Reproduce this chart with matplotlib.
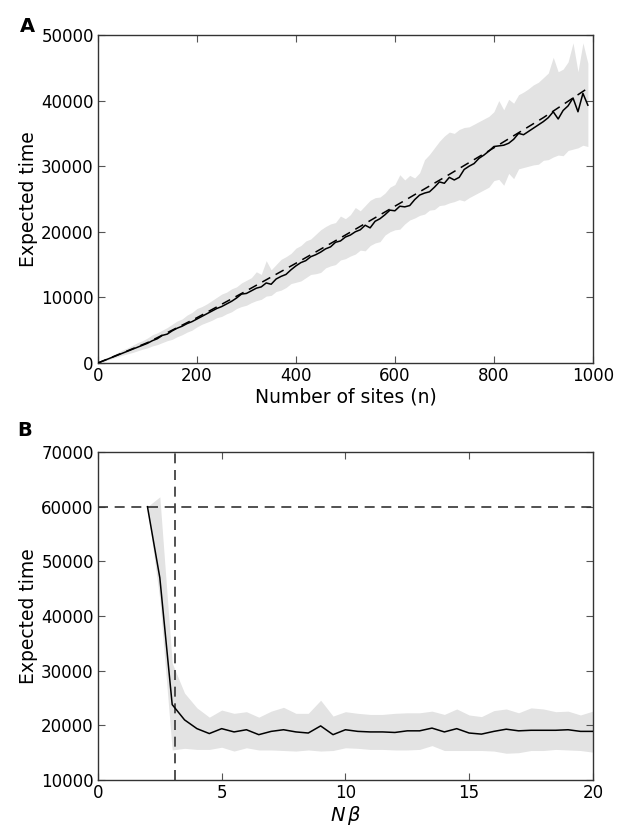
import matplotlib
matplotlib.use("Agg")
import matplotlib.pyplot as plt
import numpy as np

# Panel A: expected time vs number of sites (values in thousands)
sites = list(range(0, 1000, 10))
mean_a = [
    0.0, 0.3, 0.6, 0.9, 1.2, 1.5, 1.8, 2.1, 2.4, 2.7,
    3.0, 3.4, 3.7, 4.2, 4.4, 4.9, 5.3, 5.6, 6.0, 6.3,
    6.7, 7.1, 7.5, 7.9, 8.3, 8.6, 9.0, 9.4, 9.9, 10.5,
    10.6, 11.0, 11.4, 11.6, 12.2, 12.0, 12.8, 13.2, 13.5, 14.2,
    14.8, 15.3, 15.6, 16.2, 16.5, 16.9, 17.4, 17.7, 18.4, 18.6,
    19.2, 19.5, 20.0, 20.3, 21.0, 20.6, 21.6, 22.0, 22.6, 23.3,
    23.2, 23.9, 23.8, 24.0, 24.9, 25.6, 25.9, 26.1, 26.8, 27.6,
    27.4, 28.3, 27.9, 28.3, 29.5, 30.0, 30.4, 31.2, 31.7, 32.3,
    33.0, 33.1, 33.2, 33.5, 34.1, 35.0, 34.8, 35.3, 35.8, 36.3,
    36.8, 37.4, 38.3, 37.2, 38.5, 39.2, 40.4, 38.3, 41.1, 39.3,
]
upper_a = [
    0.0, 0.4, 0.8, 1.2, 1.6, 2.0, 2.3, 2.7, 3.1, 3.4,
    3.8, 4.3, 4.6, 5.0, 5.4, 5.9, 6.4, 6.7, 7.3, 7.7,
    8.3, 8.6, 9.0, 9.5, 10.0, 10.5, 10.8, 11.3, 11.6, 12.2,
    12.6, 13.0, 13.9, 13.5, 15.6, 14.2, 15.0, 15.8, 16.2, 16.7,
    17.5, 17.9, 18.6, 18.9, 19.6, 20.3, 20.8, 21.2, 21.4, 22.4,
    22.0, 22.6, 23.7, 23.2, 24.0, 24.8, 25.2, 25.3, 25.9, 26.8,
    27.2, 28.7, 27.9, 28.6, 28.2, 29.0, 31.0, 31.8, 32.8, 33.8,
    34.6, 35.2, 35.0, 35.6, 35.9, 36.0, 36.4, 36.8, 37.2, 37.6,
    38.3, 40.0, 38.6, 40.2, 39.6, 40.9, 41.3, 41.8, 42.4, 42.8,
    43.5, 44.2, 46.6, 44.4, 44.8, 45.9, 48.8, 44.4, 48.8, 45.7,
]
lower_a = [
    0.0, 0.2, 0.45, 0.7, 0.95, 1.2, 1.4, 1.6, 1.85, 2.1,
    2.3, 2.6, 2.8, 3.1, 3.4, 3.6, 4.0, 4.3, 4.7, 5.0,
    5.5, 5.9, 6.2, 6.5, 6.9, 7.1, 7.5, 7.8, 8.3, 8.6,
    8.8, 9.2, 9.5, 9.7, 10.2, 10.3, 10.9, 11.1, 11.5, 12.1,
    12.3, 12.5, 13.0, 13.5, 13.6, 13.8, 14.5, 14.8, 15.0, 15.7,
    15.9, 16.3, 16.6, 17.2, 17.1, 17.9, 18.3, 18.5, 19.5, 20.0,
    20.3, 20.4, 21.2, 21.8, 22.1, 22.5, 22.7, 23.3, 23.4, 24.0,
    24.1, 24.4, 24.6, 24.9, 24.7, 25.2, 25.6, 26.0, 26.4, 26.8,
    27.8, 28.0, 27.1, 28.9, 28.1, 29.6, 29.8, 30.0, 30.2, 30.3,
    30.9, 31.0, 31.4, 31.7, 31.6, 32.4, 32.6, 32.8, 33.2, 33.0,
]
theory_sites = [0, 100, 200, 300, 400, 500, 600, 700, 800, 900, 990]
theory_a = [0.0, 3.1, 6.9, 11.0, 15.2, 19.5, 23.9, 28.3, 32.8, 37.4, 41.9]

# Panel B: expected time vs N*beta
nbeta = [2.0 + 0.5 * i for i in range(37)]
mean_b = [
    60000, 47000, 23800, 21000, 19400, 18500, 19400, 18800, 19200, 18300,
    18900, 19200, 18800, 18600, 19900, 18300, 19200, 18900, 18800, 18800,
    18700, 19000, 19000, 19500, 18800, 19400, 18600, 18400, 18900, 19300,
    19000, 19100, 19100, 19100, 19200, 18900, 18900,
]
upper_b = [
    60000, 61800, 31400, 25900, 23200, 21500, 22800, 22200, 22500, 21500,
    22600, 23300, 22200, 22200, 24600, 21700, 22500, 22200, 22000, 22000,
    22200, 22300, 22300, 22600, 22000, 23000, 21900, 21600, 22700, 23000,
    22300, 23200, 23000, 22500, 22600, 21900, 22600,
]
lower_b = [
    60000, 43000, 15500, 15800, 15600, 15600, 16000, 15300, 15900, 15500,
    15500, 15400, 15300, 15500, 15300, 15400, 15900, 15800, 15600, 15600,
    15500, 15500, 15600, 16300, 15400, 15400, 15400, 15400, 15300, 14900,
    15000, 15400, 15400, 15600, 15500, 15400, 15100,
]
cap_time = 60000
critical_nbeta = 3.1

FILL = "#e3e3e3"

plt.rcParams["font.family"] = "DejaVu Sans"
fig = plt.figure(figsize=(6.26, 8.30), dpi=100)
ax_a = fig.add_axes([0.1565, 0.5627, 0.7905, 0.3951])
ax_b = fig.add_axes([0.1565, 0.0602, 0.7905, 0.3952])

k = 1000.0
ax_a.fill_between(sites, np.array(lower_a) * k, np.array(upper_a) * k,
                  color=FILL, linewidth=0, zorder=1)
ax_a.plot(sites, np.array(mean_a) * k, color="black", lw=1.1, zorder=3)
ax_a.plot(theory_sites, np.array(theory_a) * k, color="black", lw=1.1,
          dashes=(6, 4), zorder=3)
ax_a.set_xlim(0, 1000)
ax_a.set_ylim(0, 50000)
ax_a.set_xticks(range(0, 1001, 200))
ax_a.set_yticks(range(0, 50001, 10000))
ax_a.set_xlabel("Number of sites (n)", fontsize=13.5, labelpad=2)
ax_a.set_ylabel("Expected time", fontsize=13.5, labelpad=2)

ax_b.fill_between(nbeta, lower_b, upper_b, color=FILL, linewidth=0, zorder=1)
ax_b.plot(nbeta, mean_b, color="black", lw=1.1, zorder=3)
ax_b.axhline(cap_time, color="#333333", lw=1.2, dashes=(6, 4), zorder=2)
ax_b.axvline(critical_nbeta, color="#333333", lw=1.2, dashes=(6, 4), zorder=2)
ax_b.set_xlim(0, 20)
ax_b.set_ylim(10000, 70000)
ax_b.set_xticks(range(0, 21, 5))
ax_b.set_yticks(range(10000, 70001, 10000))
ax_b.set_xlabel(r"$N\,\beta$", fontsize=14, labelpad=1)
ax_b.set_ylabel("Expected time", fontsize=13.5, labelpad=2)

for ax in (ax_a, ax_b):
    ax.tick_params(direction="in", top=True, right=True, length=5,
                   width=0.8, color="#555555", labelsize=12, pad=3)
    for sp in ax.spines.values():
        sp.set_color("#333333")
        sp.set_linewidth(1.0)

fig.text(0.032, 0.968, "A", fontsize=14, fontweight="bold", ha="left", va="center")
fig.text(0.027, 0.481, "B", fontsize=14, fontweight="bold", ha="left", va="center")

fig.savefig("out.png", dpi=100, facecolor="white")
